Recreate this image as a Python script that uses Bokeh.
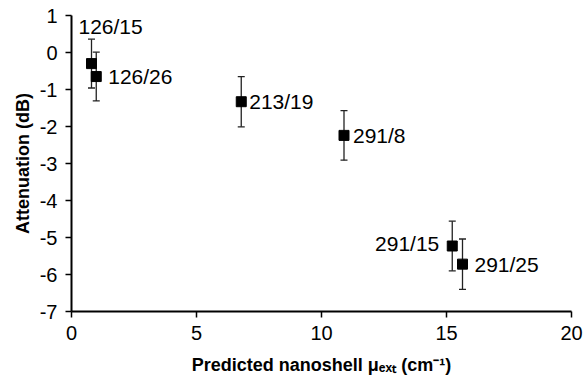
from bokeh.plotting import figure
from bokeh.models import ColumnDataSource, Whisker, TeeHead, FixedTicker, Range1d
from bokeh.core.properties import value
from bokeh.embed import file_html
from bokeh.resources import INLINE

# ---- data ----
labels = ["126/15", "126/26", "213/19", "291/8", "291/15", "291/25"]
mu_ext = [0.80, 0.99, 6.79, 10.90, 15.23, 15.64]
attenuation = [-0.30, -0.65, -1.33, -2.24, -5.23, -5.72]
err = [0.66, 0.66, 0.68, 0.67, 0.67, 0.68]
x_ticks = [0, 5, 10, 15, 20]
y_ticks = [1, 0, -1, -2, -3, -4, -5, -6, -7]
y_tick_labels = ["1", "0", "-1", "-2", "-3", "-4", "-5", "-6", "-7"]

# label placement (screen px offsets, style only)
lab_dx = [-13, 12, 8, 9, -13, 12]
lab_dy = [-37, 0, 0, 0, -3, 0]
lab_align = ["left", "left", "left", "left", "right", "left"]

FONT = "Liberation Sans"

src = ColumnDataSource(dict(
    x=mu_ext, y=attenuation,
    upper=[a + e for a, e in zip(attenuation, err)],
    lower=[a - e for a, e in zip(attenuation, err)],
    label=labels, dx=lab_dx, dy=lab_dy, align=lab_align,
))

p = figure(width=584, height=382, output_backend="svg", toolbar_location=None,
           x_range=Range1d(0, 20), y_range=Range1d(-7, 1),
           min_border_left=71, min_border_right=13, min_border_top=15, min_border_bottom=71)
p.outline_line_color = None
p.xgrid.grid_line_color = None
p.ygrid.grid_line_color = None
p.background_fill_color = "white"
p.border_fill_color = "white"

w = Whisker(source=src, base="x", upper="upper", lower="lower",
            line_color="#222222", line_width=1.3,
            upper_head=TeeHead(size=7, line_color="#222222", line_width=1.3),
            lower_head=TeeHead(size=7, line_color="#222222", line_width=1.3))
p.add_layout(w)

p.scatter("x", "y", source=src, marker="square", size=10,
          fill_color="black", line_color="black")

p.text("x", "y", text="label", source=src, x_offset="dx", y_offset="dy",
       text_align="align", text_baseline="middle",
       text_font=value(FONT), text_font_size="21px", text_color="black")

for ax in (p.xaxis, p.yaxis):
    ax.axis_line_width = 2
    ax.axis_line_color = "black"
    ax.major_tick_line_width = 1.5
    ax.major_tick_line_color = "black"
    ax.major_tick_in = 0
    ax.major_tick_out = 6
    ax.minor_tick_line_color = None
    ax.major_label_text_font = FONT
    ax.major_label_text_color = "black"
    ax.axis_label_text_font = FONT
    ax.axis_label_text_font_style = "bold"
    ax.axis_label_text_font_size = "18px"
    ax.axis_label_text_color = "black"

p.xaxis.ticker = FixedTicker(ticks=x_ticks)
p.yaxis.ticker = FixedTicker(ticks=y_ticks)
p.yaxis.major_label_overrides = {t: s for t, s in zip(y_ticks, y_tick_labels)}
p.xaxis.major_label_text_font_size = "20px"
p.yaxis.major_label_text_font_size = "20px"
p.xaxis.major_label_standoff = 8
p.yaxis.major_label_standoff = 8
p.xaxis.axis_label = "Predicted nanoshell \u03bc\u2091\u2093\u209c (cm\u207b\u00b9)"
p.yaxis.axis_label = "Attenuation (dB)"
p.xaxis.axis_label_standoff = 12
p.yaxis.axis_label_standoff = 4

open("out.html", "w").write(file_html(p, INLINE))
